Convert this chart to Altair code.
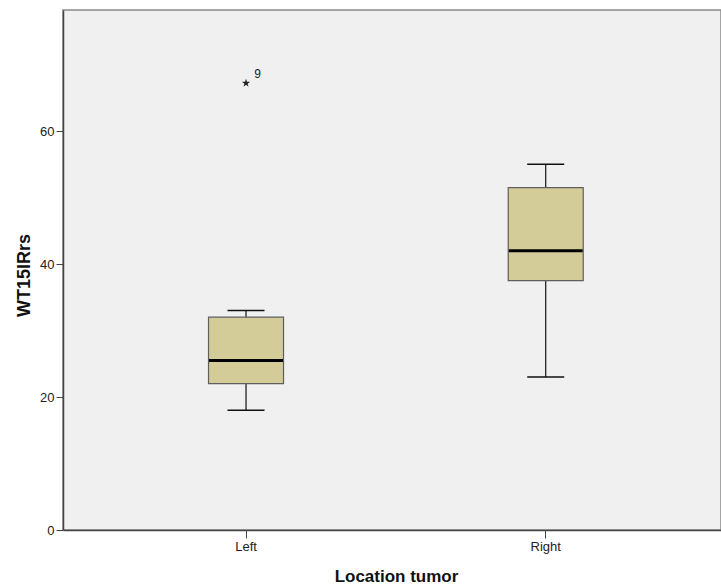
import altair as alt
import pandas as pd

# ---- data ----
groups = ["Left", "Right"]
lower_whisker = [18, 23]
q1 = [22, 37.5]
median = [25.5, 42]
q3 = [32, 51.5]
upper_whisker = [33, 55]

outlier_group = ["Left"]
outlier_value = [67.2]
outlier_label = ["9"]

y_ticks = [0, 20, 40, 60]

box_df = pd.DataFrame({
    "group": groups,
    "lo": lower_whisker,
    "q1": q1,
    "med": median,
    "q3": q3,
    "hi": upper_whisker,
})
out_df = pd.DataFrame({"group": outlier_group, "value": outlier_value, "label": outlier_label})

FONT = "Liberation Sans"

x_enc = alt.X(
    "group:N",
    sort=groups,
    scale=alt.Scale(paddingInner=0, paddingOuter=0.0978, align=0.566),
    axis=alt.Axis(
        title="Location tumor",
        labelAngle=0,
        labelFont=FONT,
        labelFontSize=13,
        labelColor="#222222",
        labelPadding=2,
        tickSize=8,
        tickColor="#444444",
        domainColor="#444444",
        domainWidth=1.5,
        titleFont=FONT,
        titleFontSize=17,
        titleFontWeight="bold",
        titleColor="#111111",
        titleX=333,
        titleY=51,
        titleBaseline="alphabetic",
        titleAlign="center",
    ),
)

y_scale = alt.Scale(domain=[0, 78.2], nice=False, zero=True)
y_axis = alt.Axis(
    title="WT15IRrs",
    values=y_ticks,
    grid=False,
    labelFont=FONT,
    labelFontSize=13,
    labelColor="#222222",
    labelPadding=2,
    tickSize=7,
    tickColor="#444444",
    domainColor="#444444",
    domainWidth=1.5,
    titleFont=FONT,
    titleFontSize=18,
    titleFontWeight="bold",
    titleColor="#111111",
    titleX=-39,
    titleY=265,
    titleAngle=270,
    titleBaseline="middle",
    titleAlign="center",
)

base = alt.Chart(box_df)

whisker = base.mark_rule(color="#111111", strokeWidth=1.2, opacity=1).encode(
    x=x_enc,
    y=alt.Y("lo:Q", scale=y_scale, axis=y_axis),
    y2="hi:Q",
)

caps_lo = base.mark_tick(color="#111111", thickness=1.4, size=37, opacity=1).encode(
    x=x_enc, y=alt.Y("lo:Q", scale=y_scale, axis=y_axis)
)
caps_hi = base.mark_tick(color="#111111", thickness=1.4, size=37, opacity=1).encode(
    x=x_enc, y=alt.Y("hi:Q", scale=y_scale, axis=y_axis)
)

box = base.mark_bar(size=75, fill="#d4cc98", stroke="#5f5f5f", strokeWidth=1.2, opacity=1).encode(
    x=x_enc,
    y=alt.Y("q1:Q", scale=y_scale, axis=y_axis),
    y2="q3:Q",
)

med = base.mark_tick(color="#000000", thickness=3, size=74, opacity=1).encode(
    x=x_enc, y=alt.Y("med:Q", scale=y_scale, axis=y_axis)
)

star_path = ("M0,-1L0.2245,-0.309L0.951,-0.309L0.363,0.118L0.588,0.809L0,0.382"
             "L-0.588,0.809L-0.363,0.118L-0.951,-0.309L-0.2245,-0.309Z")

outlier = alt.Chart(out_df).mark_point(
    shape=star_path, filled=True, color="#222222", size=75, opacity=1
).encode(
    x=x_enc, y=alt.Y("value:Q", scale=y_scale, axis=y_axis)
)

outlier_text = alt.Chart(out_df).mark_text(
    font=FONT, fontSize=12, color="#222222", dx=11.5, dy=-5, align="center", baseline="alphabetic"
).encode(
    x=x_enc, y=alt.Y("value:Q", scale=y_scale, axis=y_axis), text="label:N"
)

chart = (
    alt.layer(whisker, caps_lo, caps_hi, box, med, outlier, outlier_text)
    .properties(
        width=658,
        height=520,
        autosize=alt.AutoSizeParams(type="none"),
        padding={"left": 63, "top": 10, "right": 0, "bottom": 55},
        background="#ffffff",
    )
    .configure_view(fill="#f0f0f0", stroke="#8a8a8a", strokeWidth=1.5)
)

chart.save("out.html", embed_options={"renderer": "svg", "actions": False})
